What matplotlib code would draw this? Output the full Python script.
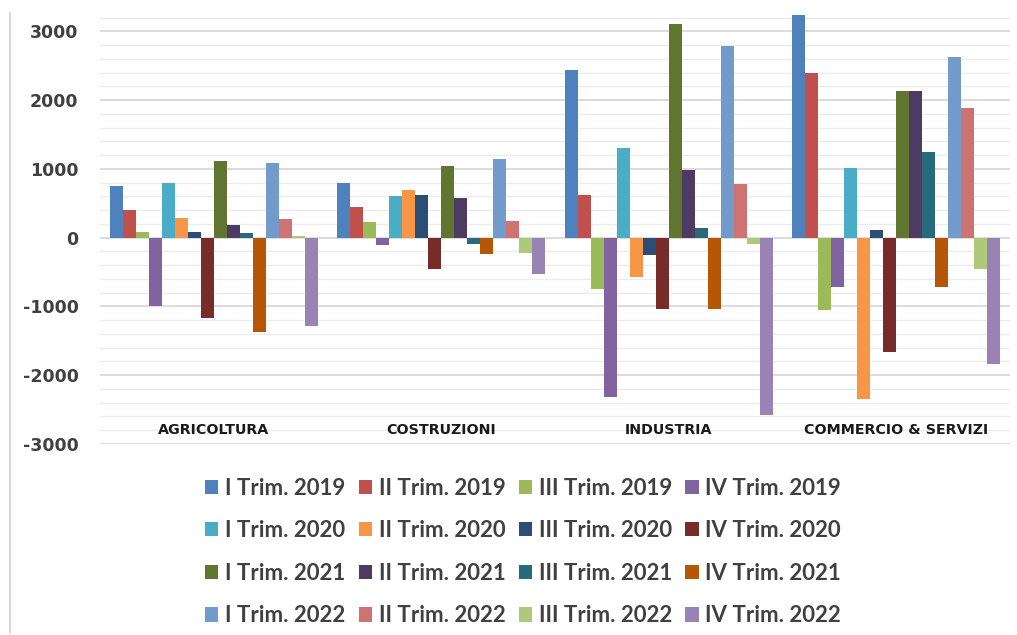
import matplotlib
matplotlib.use("Agg")
import matplotlib.pyplot as plt
from matplotlib.lines import Line2D
from matplotlib.patches import Patch
import numpy as np

categories = ["AGRICOLTURA", "COSTRUZIONI", "INDUSTRIA", "COMMERCIO & SERVIZI"]

series_labels = [
    "I Trim. 2019", "II Trim. 2019", "III Trim. 2019", "IV Trim. 2019",
    "I Trim. 2020", "II Trim. 2020", "III Trim. 2020", "IV Trim. 2020",
    "I Trim. 2021", "II Trim. 2021", "III Trim. 2021", "IV Trim. 2021",
    "I Trim. 2022", "II Trim. 2022", "III Trim. 2022", "IV Trim. 2022",
]

# values per category, ordered as series_labels
agricoltura = [750, 400, 90, -1000, 800, 290, 90, -1170,
               1110, 180, 70, -1370, 1085, 270, 25, -1280]
costruzioni = [800, 445, 225, -100, 600, 690, 625, -460,
               1045, 580, -85, -240, 1150, 250, -220, -525]
industria = [2435, 625, -745, -2320, 1310, -570, -255, -1035,
             3105, 980, 135, -1035, 2790, 785, -85, -2580]
commercio = [3240, 2395, -1055, -720, 1020, -2340, 115, -1655,
             2130, 2130, 1245, -720, 2635, 1880, -455, -1830]

colors = ["#4F81BD", "#C0504D", "#9BBB59", "#8064A2",
          "#4BACC6", "#F79646", "#2C4D75", "#772C2A",
          "#5F7530", "#4D3B62", "#276A7C", "#B65708",
          "#729ACA", "#CD7371", "#AFC97A", "#9983B5"]

yticks = [-3000, -2000, -1000, 0, 1000, 2000, 3000]

data = np.array([agricoltura, costruzioni, industria, commercio])  # (4, 16)

fig = plt.figure(figsize=(10.17, 6.35), dpi=100)
ax = fig.add_axes([100 / 1017, 1 - 444 / 635, 910 / 1017, (444 - 10.8) / 635])

n = len(series_labels)
group_w = 0.915
bw = group_w / n
x = np.arange(len(categories))
for i in range(n):
    ax.bar(x - group_w / 2 + bw * (i + 0.5), data[:, i], width=bw,
           color=colors[i], edgecolor="none", zorder=3, label=series_labels[i])

ax.set_xlim(-0.5, len(categories) - 0.5)
ax.set_ylim(-3000, 3300)
ax.set_yticks(yticks)
ax.set_yticklabels([str(v) for v in yticks])
ax.set_yticks(np.arange(-3000, 3300, 200), minor=True)
ax.yaxis.grid(True, which="major", color="#d9d9d9", linewidth=1.3, zorder=0)
ax.yaxis.grid(True, which="minor", color="#ececec", linewidth=1.0, zorder=0)
ax.tick_params(axis="y", which="both", length=0, pad=15.5)
ax.tick_params(axis="x", length=0)
ax.set_xticks([])
for s in ax.spines.values():
    s.set_visible(False)
for lab in ax.get_yticklabels():
    lab.set_fontsize(12.5)
    lab.set_fontweight("bold")
    lab.set_color("#404040")
    lab.set_family("DejaVu Sans")

for xi, c in zip(x, categories):
    ax.text(xi, -2800, c, ha="center", va="center", fontsize=10.3,
            fontweight="bold", family="DejaVu Sans", color="#1a1a1a", zorder=4)

# left border line
fig.add_artist(Line2D([10 / 1017, 10 / 1017], [1 - 13 / 635, 1 - 633 / 635],
                      color="#d0d0d0", linewidth=1.2))

handles = [Patch(facecolor=colors[i], edgecolor="none") for i in range(n)]
# legend with 4 columns, row-major ordering
order = []
for col in range(4):
    for row in range(4):
        order.append(row * 4 + col)
leg = fig.legend([handles[k] for k in order], [series_labels[k] for k in order],
                 ncol=4, loc="center", bbox_to_anchor=(523 / 1017, 1 - 552 / 635),
                 frameon=False, handlelength=0.6, handleheight=0.6,
                 handletextpad=0.3, columnspacing=0.6, labelspacing=0.97,
                 prop={"family": ["Lato", "DejaVu Sans"],
                       "weight": "bold", "size": 16})
for t in leg.get_texts():
    t.set_color("#404040")

fig.savefig("out.png", dpi=100)
